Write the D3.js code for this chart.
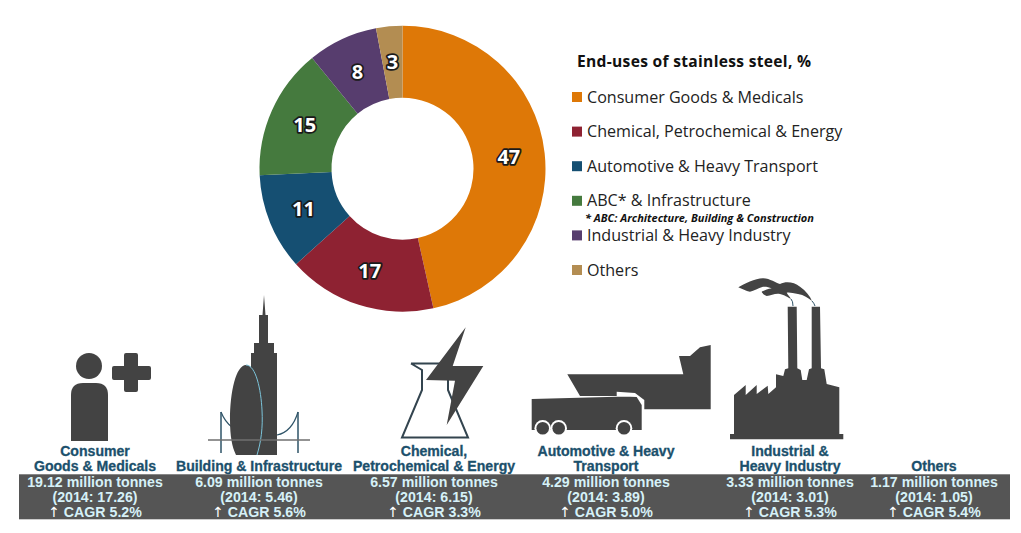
<!DOCTYPE html>
<html>
<head>
<meta charset="utf-8">
<script src="https://cdn.jsdelivr.net/npm/d3@7"></script>
<style>
  html, body { margin: 0; padding: 0; background: #fff; }
  svg { display: block; }
  .slice-label { font: bold 20px "Open Sans", sans-serif; fill: #fff; stroke: #1a1a1a; stroke-width: 3.5px; paint-order: stroke; stroke-linejoin: round; text-anchor: middle; }
  .legend-title { font: bold 15.6px "Open Sans", sans-serif; fill: #111; letter-spacing: 0.3px; }
  .legend-label { font: 16.1px "Open Sans", sans-serif; fill: #222; }
  .legend-note { font: italic bold 11px "Open Sans", sans-serif; fill: #111; }
  .col-name { font: bold 14.1px "Liberation Sans", sans-serif; fill: #1b506c; stroke: #1b506c; stroke-width: 0.3px; text-anchor: middle; }
  .col-stat { font: bold 14.2px "Liberation Sans", sans-serif; fill: #d6f1f8; text-anchor: middle; }
  .col-arrow { font: normal 14px "DejaVu Sans", sans-serif; fill: #fff; }
</style>
</head>
<body>
<script>
// values
var categories = ["Consumer Goods & Medicals", "Chemical, Petrochemical & Energy", "Automotive & Heavy Transport", "ABC* & Infrastructure", "Industrial & Heavy Industry", "Others"];
var shares = [47, 17, 11, 15, 8, 3];
var sliceColours = ["#de7807", "#8e2232", "#154f72", "#457a3e", "#573d6e", "#b38d52"];

var columnNames = [
    ["Consumer", "Goods & Medicals"],
    ["Building & Infrastructure"],
    ["Chemical,", "Petrochemical & Energy"],
    ["Automotive & Heavy", "Transport"],
    ["Industrial &", "Heavy Industry"],
    ["Others"]
];
var tonnes2019 = ["19.12", "6.09", "6.57", "4.29", "3.33", "1.17"];
var tonnes2014 = ["17.26", "5.46", "6.15", "3.89", "3.01", "1.05"];
var cagr = ["5.2", "5.6", "3.3", "5.0", "5.3", "5.4"];

var width = 1021, height = 533;
var columnCentres = [95, 259, 434, 606, 790, 934];
var ink = "#434343", edge = "#7cc4da";

var svg = d3.select("body").append("svg")
    .attr("width", width)
    .attr("height", height);

// donut
var pie = d3.pie().sort(null).value(function(d) { return d; });
var arc = d3.arc().innerRadius(71).outerRadius(143);
var donut = svg.append("g").attr("transform", "translate(402.5,168.7)");

var slices = donut.selectAll("g").data(pie(shares)).enter().append("g");
slices.append("path")
    .attr("d", arc)
    .attr("fill", function(d, i) { return sliceColours[i]; });
slices.append("text")
    .attr("class", "slice-label")
    .attr("dy", "0.36em")
    .attr("transform", function(d) { return "translate(" + arc.centroid(d) + ")"; })
    .text(function(d) { return d.value; });

// legend
svg.append("text").attr("class", "legend-title").attr("x", 577).attr("y", 67).text("End-uses of stainless steel, %");

var legendY = d3.scalePoint().domain(categories).range([97, 270]);
var legend = svg.selectAll(".legend").data(categories).enter().append("g")
    .attr("class", "legend")
    .attr("transform", function(d) { return "translate(572," + legendY(d) + ")"; });
legend.append("rect")
    .attr("y", -5).attr("width", 10).attr("height", 10)
    .attr("fill", function(d, i) { return sliceColours[i]; });
legend.append("text")
    .attr("class", "legend-label")
    .attr("x", 15).attr("dy", "0.35em")
    .text(function(d) { return d; });
svg.append("text").attr("class", "legend-note").attr("x", 585).attr("y", 222).text("* ABC: Architecture, Building & Construction");

// icons
var icons = svg.append("g").attr("fill", ink);

// person and plus
icons.append("circle").attr("cx", 89).attr("cy", 366).attr("r", 13);
icons.append("path").attr("d", "M71 441V395Q71 383 83 383H96Q108 383 108 395V441Z");
icons.append("path").attr("d", "M124 355Q124 353 126 353H136Q138 353 138 355V366H149Q151 366 151 368V378Q151 380 149 380H138V390Q138 392 136 392H126Q124 392 124 390V380H114Q112 380 112 378V368Q112 366 114 366H124Z");

// tower and bridge
icons.append("path").attr("d", "M264 295L265.5 315H268V343H274V353H277V455H251V353H254V343H259V315H262.5Z");
icons.append("path").attr("d", "M221 412Q225 422 232 427M298 412Q292 432 277 435")
    .attr("fill", "none").attr("stroke", "#2f5468").attr("stroke-width", 1.2);
icons.append("path").attr("d", "M221 412V453M298 412V453")
    .attr("fill", "none").attr("stroke", "#2f5468").attr("stroke-width", 1.5);
icons.append("path").attr("d", "M246 365C236 365 230 392 230 420C230 436 232 447 236 455H257C261 442 263 428 262 410C261 390 256 365 246 365Z");
icons.append("path").attr("d", "M246 365C256 365 261 390 262 410C263 428 261 442 257 455")
    .attr("fill", "none").attr("stroke", edge).attr("stroke-width", 1);
icons.append("path").attr("d", "M208 440H310").attr("fill", "none").attr("stroke", "#6f6f6f").attr("stroke-width", 1.5);

// flask and bolt
icons.append("path").attr("d", "M411 363.5H450M411 363.5L422 370V390L402 437.5H468L448 390V380")
    .attr("fill", "none").attr("stroke", "#33444f").attr("stroke-width", 2);
icons.append("path").attr("d", "M465.7 327.3L426 380L455 380.7L446.7 425L483.3 366H452.7Z");

// ship and truck
icons.append("path").attr("d", "M567.3 374.3H683.3L679 356H690L700 347.3L710.7 345V409.3H644.3V400L635 393L616.7 391.7V396H580Z");
icons.append("path").attr("d", "M531.7 399L616.7 396.7H630L636.7 397L641.7 405V430H531.7Z");
var wheels = icons.append("g").selectAll("g").data([542.7, 558.7, 624]).enter().append("g");
wheels.append("circle")
    .attr("cx", function(d) { return d; }).attr("cy", 428.3).attr("r", 8.3).attr("fill", "#fff");
wheels.append("circle")
    .attr("cx", function(d) { return d; }).attr("cy", 428.3).attr("r", 6.3);

// factory
icons.append("path").attr("d", "M734 395L745.7 385V395L756.7 385V394L767.7 385.7L768.3 394L776 387.3V374.3L783.3 376L785 369.3L788.3 368.3L787.7 306.7H796.7L797.3 368.3L800.7 370L802.3 380H806.7L809 369.3L811.7 368.3V306.7H820L821 368.3L824.3 369.3L826.7 384L839.3 387.3V434H843.3V439.3H730V434H734Z");
icons.append("path").attr("d", "M738.3 287.3C744 284 756 278 763.3 278.3C770 278.5 776 283 780 284C786 281 794 282 800 286.7C806 291 810 296 812 301C808 298 804 295 798 294C793 293 789 292 786.7 292.7C788 295 790 297 791 299C787 297 785 295 780 294C775 293 771 296 766.7 296C764 295 762 293 761.7 291.7C765 290 768 289 771.7 288.3C769 287 766 286.5 763 286.7C758 288 754 291 750 291.7C746 291 742 289 738.3 287.3Z");
icons.append("path").attr("d", "M791 299Q793 301 793 306M812 301Q814 303 815 306")
    .attr("fill", "none").attr("stroke", "#2f5468").attr("stroke-width", 1);

// columns of names and figures
svg.append("rect").attr("x", 19).attr("y", 474.3).attr("width", 991).attr("height", 45).attr("fill", "#555");

var columns = svg.selectAll(".column").data(columnNames).enter().append("g")
    .attr("class", "column")
    .attr("transform", function(d, i) { return "translate(" + columnCentres[i] + ",0)"; });

columns.each(function(names) {
    var g = d3.select(this);
    names.slice().reverse().forEach(function(name, k) {
        g.append("text").attr("class", "col-name").attr("y", 471 - k * 15).text(name);
    });
});
columns.append("text").attr("class", "col-stat").attr("y", 487).text(function(d, i) { return tonnes2019[i] + " million tonnes"; });
columns.append("text").attr("class", "col-stat").attr("y", 501.5).text(function(d, i) { return "(2014: " + tonnes2014[i] + ")"; });
var cagrLine = columns.append("text").attr("class", "col-stat").attr("y", 516.5);
cagrLine.append("tspan").attr("class", "col-arrow").text("\u2191");
cagrLine.append("tspan").text(function(d, i) { return " CAGR " + cagr[i] + "%"; });
</script>
</body>
</html>
